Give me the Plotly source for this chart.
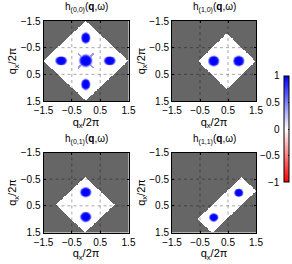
import numpy as np
import plotly.graph_objects as go

# ---- axis / labels ----
TICKS = [-1.5, -0.5, 0.5, 1.5]
TICK_TEXT = ["−1.5", "−0.5", "0.5", "1.5"]
GRID = [-0.5, 0.5]
TITLES = ["h<sub>(0,0)</sub>(<b>q</b>,ω)", "h<sub>(1,0)</sub>(<b>q</b>,ω)",
          "h<sub>(0,1)</sub>(<b>q</b>,ω)", "h<sub>(1,1)</sub>(<b>q</b>,ω)"]
AXIS_TITLE = "q<sub>x</sub>/2π"
CB_TICKS = [-1, -0.5, 0, 0.5, 1]
CB_TEXT = ["−1", "−0.5", "0", "0.5", "1"]

# ---- region where the function is defined (outside = no data, grey) ----
REGION_KIND = ["diamond", "diamond", "diamond", "rect"]
REGION_CX = [0.0, 0.47, -0.02, 0.47]
REGION_CY = [0.0, 0.02, 0.47, 0.48]
REGION_A = [1.5, 1.03, 1.04, 1.12]   # diamond half-width / rect half-length
REGION_B = [1.5, 1.06, 1.05, 0.37]   # diamond half-height / rect half-width
BACKGROUND_VALUE = -0.08

# ---- peaks (value +1) ----
BLOB_PANEL = [0, 0, 0, 0, 0, 1, 1, 2, 2, 3, 3]
BLOB_X = [0.0, -0.87, 0.85, 0.0, 0.0, 0.0, 0.9, 0.0, 0.0, 0.9, 0.0]
BLOB_Y = [0.0, 0.0, 0.0, -0.86, 0.89, 0.01, 0.01, 0.0, 0.93, 0.02, 0.95]
BLOB_RX = [0.21, 0.19, 0.19, 0.15, 0.15, 0.18, 0.18, 0.18, 0.18, 0.15, 0.15]
BLOB_RY = [0.22, 0.16, 0.16, 0.20, 0.20, 0.19, 0.19, 0.18, 0.18, 0.15, 0.15]

# faint diagonal streaks around the central peak of panel 0
STREAK_PANEL = [0]
STREAK_LEN = [0.38]
STREAK_VALUE = [0.4]

N = 181
qx = np.linspace(-1.5, 1.5, N)
qy = np.linspace(-1.5, 1.5, N)
X, Y = np.meshgrid(qx, qy)


def panel_z(p):
    dx, dy = X - REGION_CX[p], Y - REGION_CY[p]
    if REGION_KIND[p] == "diamond":
        inside = np.abs(dx) / REGION_A[p] + np.abs(dy) / REGION_B[p] <= 1
    else:
        u = (dx - dy) / np.sqrt(2)
        v = (dx + dy) / np.sqrt(2)
        inside = (np.abs(u) <= REGION_A[p]) & (np.abs(v) <= REGION_B[p])
    z = np.full(X.shape, BACKGROUND_VALUE)
    for k, sp in enumerate(STREAK_PANEL):
        if sp == p:
            d = np.minimum(np.abs(X - Y), np.abs(X + Y)) / np.sqrt(2)
            r = np.hypot(X, Y)
            m = (d < 0.025) & (r < STREAK_LEN[k])
            z = np.where(m, STREAK_VALUE[k], z)
    for k, bp in enumerate(BLOB_PANEL):
        if bp == p:
            r = np.hypot((X - BLOB_X[k]) / BLOB_RX[k], (Y - BLOB_Y[k]) / BLOB_RY[k])
            b = np.exp(-np.log(2) * r ** 8)
            z = np.maximum(z, b)
    z = np.round(z, 3).astype(object)
    z[~inside] = None
    return z.tolist()


COLORSCALE = [[0, "rgb(255,0,0)"], [0.5, "rgb(255,255,255)"], [1, "rgb(0,0,255)"]]
BG = "rgb(102,102,102)"
FONT = "Liberation Sans, Arial, sans-serif"

W, H = 292, 264
# plot boxes in pixels: (left, right, top, bottom)
BOXES = [(43.5, 128.5, 21, 101), (172, 256, 21, 101),
         (43.5, 128.5, 152.5, 232.5), (172, 256, 152.5, 232.5)]
CB_LEFT, CB_TOP, CB_BOTTOM, CB_THICK = 284, 76, 182, 5

fig = go.Figure()
for p in range(4):
    fig.add_trace(go.Heatmap(
        x=qx, y=qy, z=panel_z(p), colorscale=COLORSCALE, zmin=-1, zmax=1,
        xaxis=f"x{p+1}" if p else "x", yaxis=f"y{p+1}" if p else "y",
        showscale=(p == 0), hoverinfo="skip",
        colorbar=dict(
            x=CB_LEFT / W, xanchor="left", xpad=0, ypad=0,
            y=1 - (CB_TOP + CB_BOTTOM) / 2 / H, yanchor="middle",
            len=(CB_BOTTOM - CB_TOP) / H, lenmode="fraction",
            thickness=CB_THICK, thicknessmode="pixels",
            outlinecolor="black", outlinewidth=1,
            tickvals=CB_TICKS, ticks="inside", ticklen=1, tickcolor="black",
            showticklabels=False,
        ) if p == 0 else None,
    ))

layout = dict(width=W, height=H, margin=dict(l=0, r=0, t=0, b=0, autoexpand=False),
              paper_bgcolor="white", plot_bgcolor=BG, showlegend=False)
annotations = []
shapes = []
for p, (l, r, t, b) in enumerate(BOXES):
    xn = "xaxis" if p == 0 else f"xaxis{p+1}"
    yn = "yaxis" if p == 0 else f"yaxis{p+1}"
    xr = "x" if p == 0 else f"x{p+1}"
    yr = "y" if p == 0 else f"y{p+1}"
    common = dict(tickvals=TICKS, ticktext=TICK_TEXT, automargin=False,
                  ticks="inside", ticklen=2, tickcolor="black", showline=True,
                  linecolor="black", linewidth=1, mirror="ticks", showgrid=False,
                  zeroline=False, tickfont=dict(family=FONT, size=10, color="black"),
                  title=dict(text=AXIS_TITLE, font=dict(family=FONT, size=11, color="black"),
                             standoff=1))
    layout[xn] = dict(common, range=[-1.5, 1.5], domain=[l / W, r / W], anchor=yr)
    layout[yn] = dict(common, range=[1.5, -1.5], domain=[1 - b / H, 1 - t / H], anchor=xr)
    annotations.append(dict(text=TITLES[p], xref="paper", yref="paper",
                            x=(l + r) / 2 / W, y=1 - (t - 5) / H, xanchor="center",
                            yanchor="bottom", showarrow=False,
                            font=dict(family=FONT, size=10, color="black")))
    for g in GRID:
        shapes.append(dict(type="line", xref=xr, yref=f"{yr} domain", x0=g, x1=g, y0=0, y1=1,
                           line=dict(color="rgba(0,0,0,0.35)", width=1, dash="dot"), layer="above"))
        shapes.append(dict(type="line", xref=f"{xr} domain", yref=yr, x0=0, x1=1, y0=g, y1=g,
                           line=dict(color="rgba(0,0,0,0.35)", width=1, dash="dot"), layer="above"))
# colourbar tick labels, placed to the left of the bar at the tick values
for v, s in zip(CB_TICKS, CB_TEXT):
    ypx = CB_BOTTOM - (v - CB_TICKS[0]) / (CB_TICKS[-1] - CB_TICKS[0]) * (CB_BOTTOM - CB_TOP)
    annotations.append(dict(text=s, xref="paper", yref="paper", x=(CB_LEFT - 2) / W,
                            y=1 - ypx / H, xanchor="right", yanchor="middle",
                            showarrow=False, font=dict(family=FONT, size=10, color="black")))
layout["annotations"] = annotations
layout["shapes"] = shapes
fig.update_layout(**layout)
fig.write_html("out.html", config={"displayModeBar": False, "staticPlot": True},
               post_script="document.body.style.margin='0';document.body.style.overflow='hidden';")
